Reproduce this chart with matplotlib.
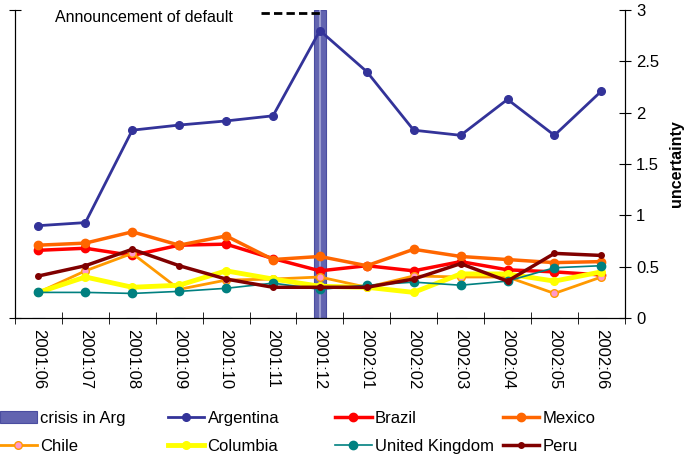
import matplotlib
matplotlib.use('Agg')
import matplotlib.pyplot as plt
import numpy as np

plt.rcParams['font.family'] = ['Liberation Sans', 'DejaVu Sans']

# Data
months = ['2001:06', '2001:07', '2001:08', '2001:09', '2001:10', '2001:11', '2001:12',
          '2002:01', '2002:02', '2002:03', '2002:04', '2002:05', '2002:06']
crisis = [0, 0, 0, 0, 0, 0, 3, 0, 0, 0, 0, 0, 0]
argentina = [0.90, 0.93, 1.83, 1.88, 1.92, 1.97, 2.80, 2.40, 1.83, 1.78, 2.13, 1.78, 2.21]
brazil = [0.66, 0.68, 0.61, 0.71, 0.72, 0.58, 0.46, 0.51, 0.46, 0.55, 0.47, 0.45, 0.42]
mexico = [0.71, 0.73, 0.84, 0.71, 0.80, 0.57, 0.60, 0.51, 0.67, 0.60, 0.57, 0.54, 0.55]
chile = [0.25, 0.46, 0.63, 0.28, 0.37, 0.38, 0.40, 0.30, 0.41, 0.40, 0.40, 0.24, 0.40]
columbia = [0.25, 0.40, 0.30, 0.32, 0.46, 0.38, 0.31, 0.30, 0.25, 0.43, 0.43, 0.36, 0.45]
uk = [0.25, 0.25, 0.24, 0.26, 0.29, 0.34, 0.28, 0.32, 0.35, 0.32, 0.36, 0.49, 0.51]
peru = [0.41, 0.51, 0.67, 0.51, 0.38, 0.30, 0.30, 0.30, 0.38, 0.53, 0.36, 0.63, 0.61]

x = np.arange(len(months))

fig = plt.figure(figsize=(6.89, 4.57), dpi=100)
ax = fig.add_axes([0.0218, 0.304, 0.885, 0.674])

# crisis bar
bar = ax.bar(x, crisis, width=0.26, color='#6264b0', edgecolor='#4a4da0', linewidth=0.8,
             label='crisis in Arg', zorder=1)
ax.vlines(x[np.array(crisis) > 0], 0, [c for c in crisis if c > 0], color='#9c9ed0', lw=1.5, zorder=1)

ax.plot([4.75, 6.0], [2.97, 2.97], color='black', ls=(0, (3, 1.5)), lw=2, zorder=2)
ax.text(0.35, 2.93, 'Announcement of default', fontsize=11.5, va='center', ha='left')

la, = ax.plot(x, argentina, color='#333399', lw=2, marker='o', ms=5.5, label='Argentina', zorder=4)
lb, = ax.plot(x, brazil, color='#ff0000', lw=2.5, marker='o', ms=6, label='Brazil', zorder=3)
lm, = ax.plot(x, mexico, color='#ff6600', lw=2.5, marker='o', ms=6, label='Mexico', zorder=3)
lc, = ax.plot(x, chile, color='#ff9900', lw=2, marker='o', ms=5.5, mfc='#ff99cc', mec='#ff9900',
              label='Chile', zorder=3)
lco, = ax.plot(x, columbia, color='#ffff00', lw=3.5, marker='o', ms=5.5, label='Columbia', zorder=3)
lu, = ax.plot(x, uk, color='#008080', lw=1.2, marker='o', ms=6, label='United Kingdom', zorder=3)
lp, = ax.plot(x, peru, color='#800000', lw=2.5, marker='o', ms=4, label='Peru', zorder=3)

ax.set_xlim(-0.5, len(months) - 0.5)
ax.set_ylim(0, 3)

ax.set_xticks(x)
ax.set_xticklabels(months, rotation=270, fontsize=12)
ax.set_xticks(np.arange(-0.5, len(months)), minor=True)
ax.tick_params(axis='x', which='major', length=0, pad=8)
ax.tick_params(axis='x', which='minor', direction='inout', length=8)
ax.spines['top'].set_visible(False)

# left axis: ticks only at the ends, no labels
ax.set_yticks([0, 3])
ax.set_yticklabels([])
ax.tick_params(axis='y', direction='inout', length=8)

# right axis with labels
ax2 = ax.twinx()
ax2.set_ylim(0, 3)
ax2.set_yticks(np.arange(0, 3.01, 0.5))
ax2.set_yticklabels(['0', '0.5', '1', '1.5', '2', '2.5', '3'], fontsize=12)
ax2.tick_params(axis='y', direction='inout', length=8, pad=4)
ax2.set_ylabel('uncertainty', fontsize=11.5, fontweight='bold', labelpad=7)
ax2.spines['top'].set_visible(False)

# legend: four evenly spaced columns
columns = [[bar, lc], [la, lco], [lb, lu], [lm, lp]]
for i, col in enumerate(columns):
    leg = fig.legend(col, [h.get_label() for h in col], loc='upper left',
                     bbox_to_anchor=(i * 167.5 / 689, 0.101), frameon=False, fontsize=12,
                     handlelength=2.2, handletextpad=0.2, labelspacing=0.8,
                     borderpad=0, borderaxespad=0)

fig.savefig('out.png', dpi=100)
